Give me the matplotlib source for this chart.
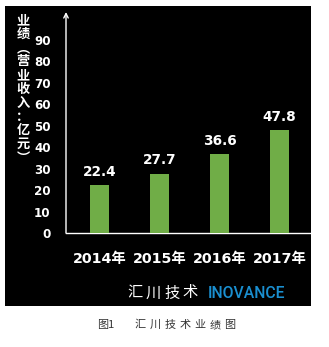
import matplotlib
matplotlib.use("Agg")
import matplotlib.pyplot as plt
from matplotlib.patches import Rectangle

years = ["2014年", "2015年", "2016年", "2017年"]
revenue = [22.4, 27.7, 36.6, 47.8]
yticks = [0, 10, 20, 30, 40, 50, 60, 70, 80, 90]
ylabel_chars = ["业", "绩", "︵", "营", "业", "收", "入", "：", "亿", "元", "︶"]
logo_cn = "汇川技术"
logo_en = "INOVANCE"
caption_no = "图1"
caption = "汇川技术业绩图"

W, H = 329, 347
fig = plt.figure(figsize=(W / 100, H / 100), dpi=100)
fig.patch.set_facecolor("white")

# black panel behind everything
fig.patches.append(Rectangle((5 / W, 1 - 306 / H), 306 / W, 300 / H,
                             transform=fig.transFigure, facecolor="black",
                             edgecolor="none", zorder=-5))

ax = fig.add_axes([66 / W, 1 - 233 / H, 245 / W, 221 / H])
ax.set_zorder(2)
ax.set_facecolor("none")
x = list(range(len(years)))
ax.bar(x, revenue, width=0.32, color="#70ad47", zorder=3)
ax.set_xlim(-0.558, 3.525)
ax.set_ylim(0, 103)

for i, v in enumerate(revenue):
    ax.text(i, v + 3, f"{v}", ha="center", va="bottom", color="white",
            fontsize=9.8, fontweight="bold", family="DejaVu Sans")

for s in ["top", "right", "left"]:
    ax.spines[s].set_visible(False)
ax.spines["bottom"].set_color("white")
ax.spines["bottom"].set_linewidth(1)
ax.annotate("", xy=(0, 1), xytext=(0, 0), xycoords="axes fraction",
            arrowprops=dict(arrowstyle="->", color="white", lw=1,
                            shrinkA=0, shrinkB=0, mutation_scale=8))

ax.set_yticks(yticks)
ax.set_yticklabels([str(t) for t in yticks], color="white", fontsize=8.6,
                   fontweight="bold", family="DejaVu Sans")
ax.tick_params(axis="y", length=0, pad=11)
ax.set_xticks(x)
ax.set_xticklabels(years, color="white", fontsize=10.3, fontweight="bold",
                   family=["DejaVu Sans", "Noto Sans CJK SC"])
ax.tick_params(axis="x", length=0, pad=14)

# stacked vertical y label, one text block
fig.text(23 / W, 1 - 89 / H, "\n".join(ylabel_chars), ha="center",
         va="center", color="white", fontsize=9.5, fontweight="bold",
         family="Noto Sans CJK SC", linespacing=0.98, zorder=3)

# logo
for k, ch in enumerate(logo_cn):
    fig.text((135 + 18.5 * k) / W, 1 - 293 / H, ch, ha="center",
             va="center", color="white", fontsize=11,
             family="Noto Sans CJK SC")
fig.text(246 / W, 1 - 293 / H, logo_en, ha="center", va="center",
         color="#1a8fd0", fontsize=11.3, fontweight="medium", family="Roboto")

# caption
fig.text(106 / W, 1 - 325 / H, caption_no, ha="center", va="center",
         color="#333333", fontsize=8, family="Noto Sans CJK SC")
for k, ch in enumerate(caption):
    fig.text((140 + 15 * k) / W, 1 - 325 / H, ch, ha="center", va="center",
             color="#333333", fontsize=8, family="Noto Sans CJK SC")

fig.savefig("out.png", dpi=100, facecolor="white")
